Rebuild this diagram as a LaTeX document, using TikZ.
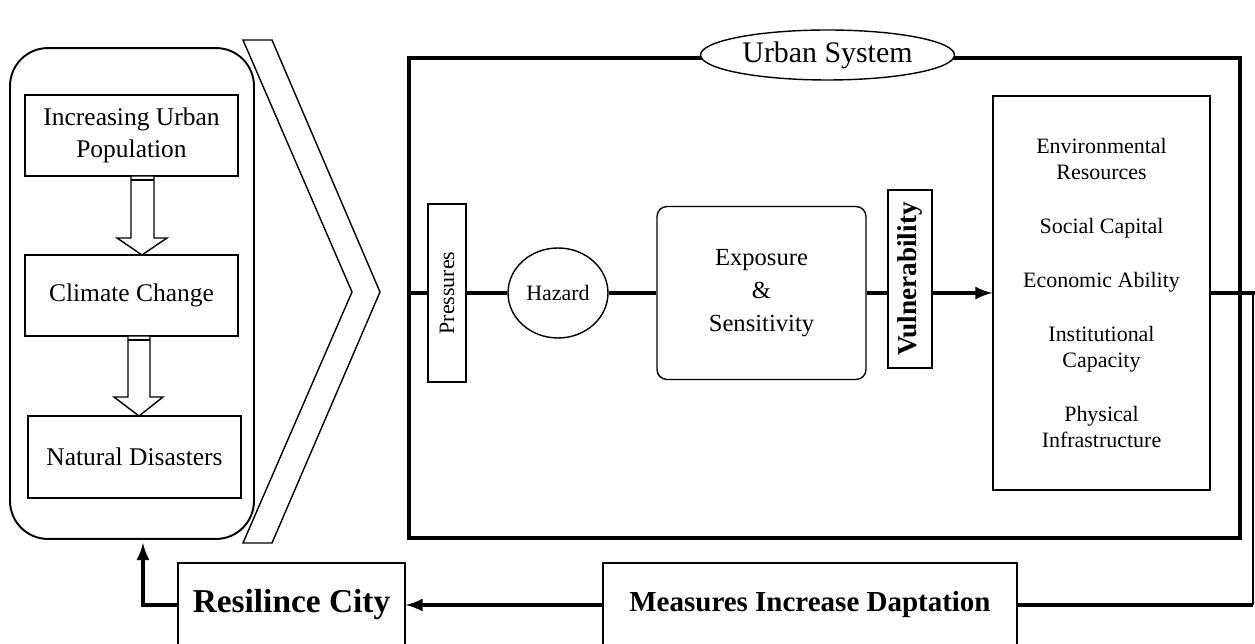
\documentclass[tikz,border=0pt]{standalone}
\usepackage{fontspec}
\setmainfont{Liberation Serif}
\usetikzlibrary{shapes.geometric}

\begin{document}
\begin{tikzpicture}[
        x = 0.02cm,
        y = -0.02cm,
        box/.style = {
            draw,
            line width = 0.8pt,
            inner sep = 0pt,
            align = center,
            minimum width = #1
        },
        box/.default = 1cm,
        thick line/.style = {line width = 2.3pt},
        thin line/.style = {line width = 0.8pt},
        txt/.style = {font = \fontsize{#1}{#1}\selectfont, align = center},
        txt/.default = 14.5,
        bold/.style = {font = \fontsize{#1}{#1}\selectfont\bfseries, align = center}
        ]
        \useasboundingbox (0,0) rectangle (1255,644);
%
        \node[draw, line width=1.1pt, rounded corners=0.76cm, minimum width=4.88cm, minimum height=9.82cm] (lbox) at (132,293.5) {};
        \node[box=4.26cm, minimum height=1.62cm, font=\fontsize{14.5}{18}\selectfont] (pop) at (131.5,135.5) {Increasing Urban\\Population};
        \node[box=4.26cm, minimum height=1.62cm, txt] (clim) at (131.5,295.5) {Climate Change};
        \node[box=4.26cm, minimum height=1.64cm, txt] (dis) at (134.5,457) {Natural Disasters};
%
        \draw[thin line, fill=white] (131,176) -- (131,238) -- (117,238) -- (142,255) -- (167,238) -- (154,238) -- (154,176) -- cycle;
        \draw[thin line] (131,180) -- (154,180);
        \draw[thin line, fill=white] (128,336) -- (128,397) -- (114,397) -- (139,416) -- (163,397) -- (150,397) -- (150,336) -- cycle;
        \draw[thin line] (128,340) -- (150,340);
%
        \draw[thin line] (243,40) -- (272,40) -- (380,292) -- (272,543) -- (243,543) -- (352,292) -- cycle;
%
%
        \node[draw, thick line, minimum width=16.62cm, minimum height=9.6cm] (usys) at (824.5,298) {};
        \node[draw, thin line, fill=white, ellipse, minimum width=5.08cm, minimum height=1cm, inner sep=0pt, txt=17] (ustit) at (827.5,55) {Urban System};
%
        \node[box=0.76cm, minimum height=3.56cm] (pres) at (447,293) {};
        \node[rotate=90, txt=12.5] (pres-t) at (pres) {Pressures};
        \node[draw, thin line, ellipse, minimum width=2cm, minimum height=1.8cm, inner sep=0pt, txt=12.5] (haz) at (558,293) {Hazard};
        \node[box=4.18cm, minimum height=3.46cm, rounded corners=0.2cm, font=\fontsize{14}{19}\selectfont] (exp) at (761.5,293) {Exposure\\\&\\Sensitivity};
        \node[box=0.88cm, minimum height=3.56cm] (vul) at (910,279) {};
        \node[rotate=90, bold=15.5] (vul-t) at (vul) {Vulnerability};
        \node[box=4.34cm, minimum height=7.88cm, font=\fontsize{12.5}{14.8}\selectfont] (res) at (1101.5,293) {Environmental\\Resources\\[16pt]Social Capital\\[16pt]Economic Ability\\[16pt]Institutional\\Capacity\\[16pt]Physical\\Infrastructure};
%
        \node[box=4.54cm, minimum height=1.68cm, bold=19] (city) at (291.5,605) {Resilince City};
        \node[box=8.28cm, minimum height=1.68cm, bold=16.5] (meas) at (810,605) {Measures Increase Daptation};
%
        \coordinate (rt) at (1255,293);
        \coordinate (rb) at (1253,605);
        \coordinate (lb) at (143,543);
%
        \draw[thick line] (usys.west |- pres) -- (pres.west);
        \draw[thick line] (pres.east) -- (haz.west);
        \draw[thick line] (haz.east) -- (exp.west);
        \draw[thick line] (exp.east) -- (exp.east -| vul.west);
        \draw[thick line, -latex] (vul.east |- res) -- (res.west);
        \draw[thick line] (res.east) -- (rt);
        \draw[thin line] (rt -| rb) -- (rb);
        \draw[thick line] (rb) -- (meas.east);
        \draw[thick line, -latex] (meas.west) -- (city.east);
        \draw[thick line, -latex] (city.west) -| (lb);
\end{tikzpicture}
\end{document}
